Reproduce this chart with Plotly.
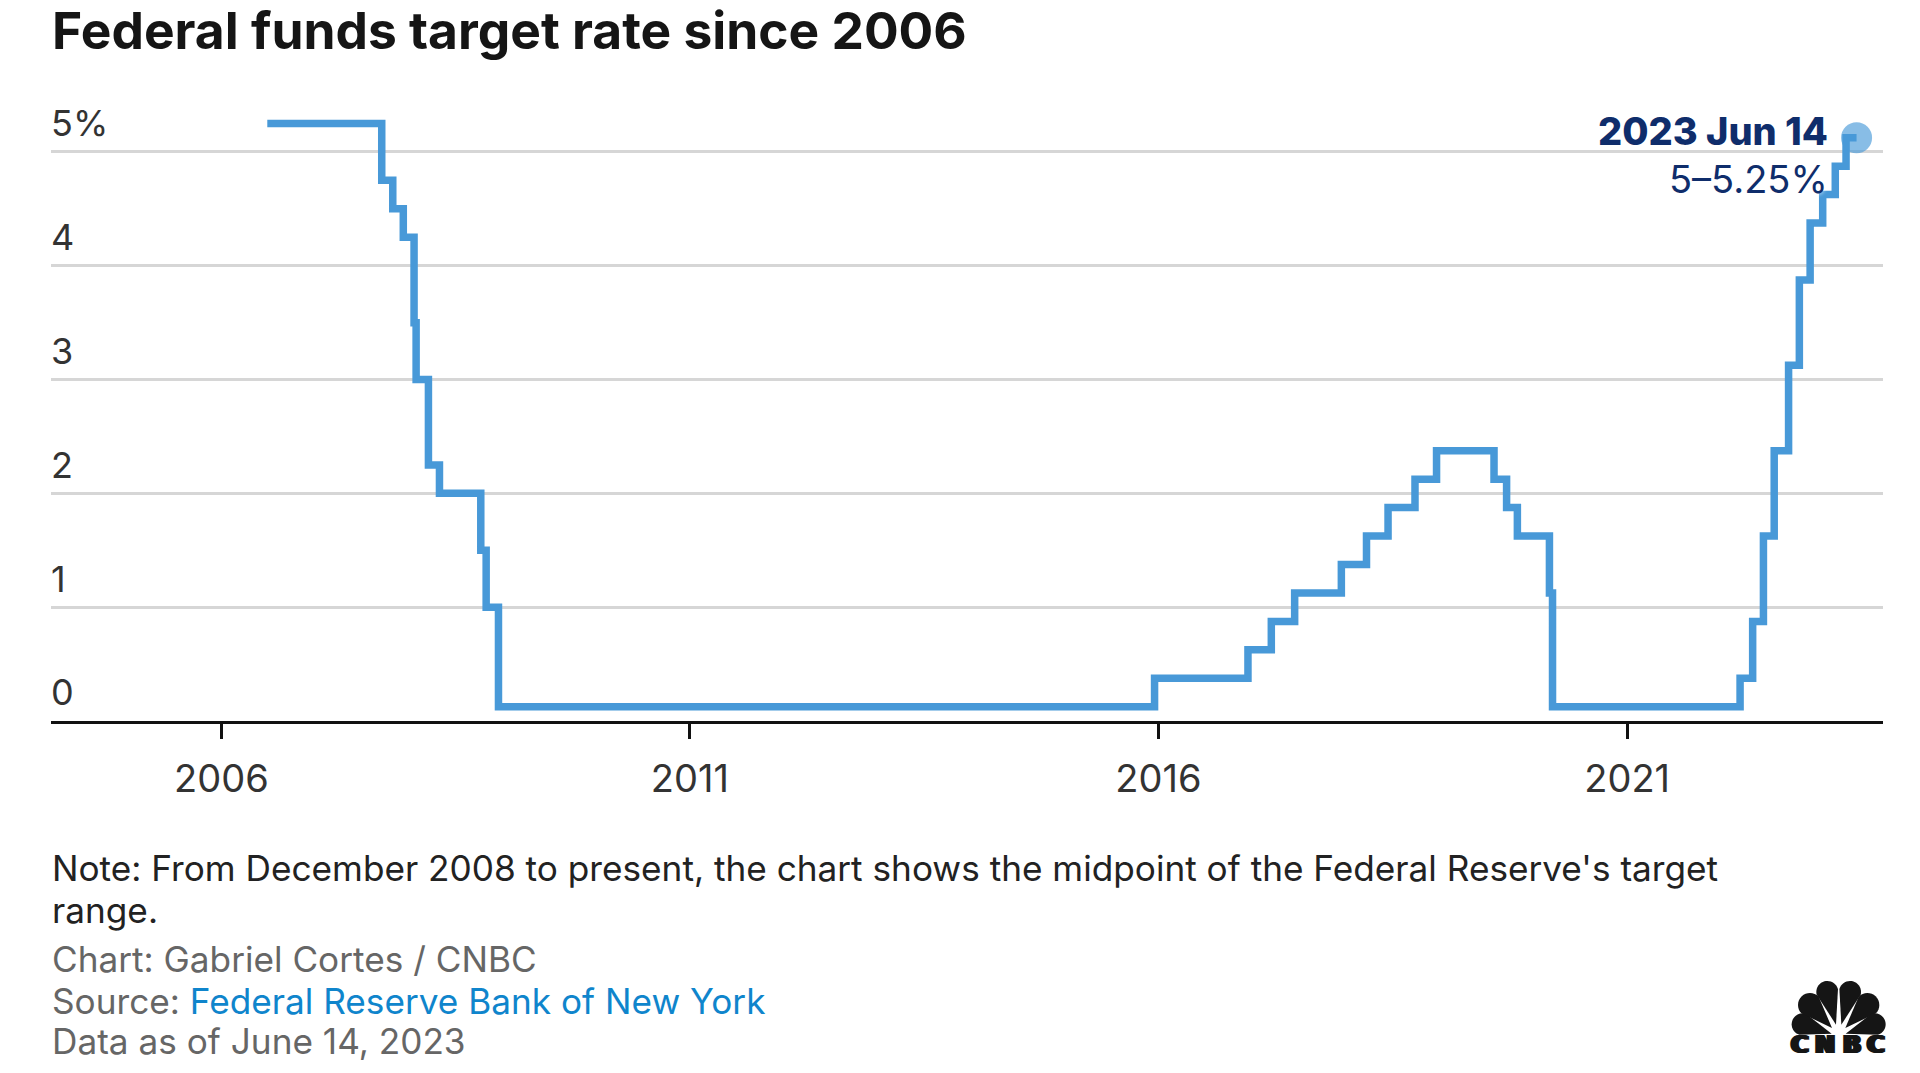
import math
import plotly.graph_objects as go

# step dates of the target rate (midpoint of the range from Dec 2008 on)
rate_dates = ["2006-06-29", "2007-09-18", "2007-10-31", "2007-12-11", "2008-01-22", "2008-01-30",
              "2008-03-18", "2008-04-30", "2008-10-08", "2008-10-29", "2008-12-16", "2015-12-17",
              "2016-12-15", "2017-03-16", "2017-06-15", "2017-12-14", "2018-03-22", "2018-06-14",
              "2018-09-27", "2018-12-20", "2019-08-01", "2019-09-19", "2019-10-31", "2020-03-04",
              "2020-03-16", "2022-03-17", "2022-05-05", "2022-06-16", "2022-07-28", "2022-09-22",
              "2022-11-03", "2022-12-15", "2023-02-02", "2023-03-23", "2023-05-04", "2023-06-14"]
rate_values = [5.25, 4.75, 4.5, 4.25, 3.5, 3.0,
               2.25, 2.0, 1.5, 1.0, 0.125, 0.375,
               0.625, 0.875, 1.125, 1.375, 1.625, 1.875,
               2.125, 2.375, 2.125, 1.875, 1.625, 1.125,
               0.125, 0.375, 0.875, 1.625, 2.375, 3.125,
               3.875, 4.375, 4.625, 4.875, 5.125, 5.125]

x_tick_dates = ["2006-01-01", "2011-01-01", "2016-01-01", "2021-01-01"]
x_tick_labels = ["2006", "2011", "2016", "2021"]
y_tick_values = [0, 1, 2, 3, 4, 5]
y_tick_labels = ["0", "1", "2", "3", "4", "5%"]
logo_letters = ["C", "N", "B", "C"]

BLUE = "#4899d8"
NAVY = "#0f2d6b"
FONT = "Inter"

# the page has an 8px body margin, page pixels below are converted from it
LEFT, RIGHT, TOP, BASE = 51, 1883, 95.4, 720.7


def xp(x):
    return (x - LEFT) / (RIGHT - LEFT)


def yp(y):
    return (BASE - y) / (BASE - TOP)


def note(text, x, y, size=35.2, color="#222222", anchor="left", weight=400, shadow=None):
    font = dict(family=FONT, size=size, color=color, weight=weight)
    if shadow:
        font["shadow"] = shadow
    return dict(text=text, x=xp(x), y=yp(y), xref="paper", yref="paper", xanchor=anchor, yanchor="middle",
                showarrow=False, font=font, align="left", borderpad=0)


# logo feather: straight sided teardrop, coordinates from a 3x crop of the corner
def feather(bx, by, cx, cy, r):
    bx, by, cx, cy, r = [v / 3 for v in (bx, by, cx, cy, r)]
    dx, dy = bx - cx, by - cy
    d = math.hypot(dx, dy)
    dx, dy = dx / d, dy / d
    px_, py_ = -dy, dx
    p1 = (cx + r * px_, cy + r * py_)
    p2 = (cx - r * px_, cy - r * py_)
    t = (cx - r * dx, cy - r * dy)
    k = 0.55 * r

    def pt(p):
        return f"{xp(1700 + p[0]):.5f},{yp(950 + p[1]):.5f}"
    path = "M " + pt((bx, by)) + " L " + pt(p1)
    path += " C " + pt((p1[0] - k * dx, p1[1] - k * dy)) + " " + pt((t[0] + k * px_, t[1] + k * py_)) + " " + pt(t)
    path += " C " + pt((t[0] - k * px_, t[1] - k * py_)) + " " + pt((p2[0] - k * dx, p2[1] - k * dy)) + " " + pt(p2)
    path += " Z"
    return dict(type="path", path=path, xref="paper", yref="paper", fillcolor="#151515", line=dict(width=0))


logo = [feather(395, 249, 308, 221, 33),
        feather(396, 232, 330, 163, 36),
        feather(408, 222, 382, 124, 33),
        feather(424, 222, 450, 124, 33),
        feather(436, 232, 502, 163, 36),
        feather(437, 249, 524, 221, 33)]

fig = go.Figure()
fig.add_trace(go.Scatter(x=rate_dates, y=rate_values, mode="lines", line=dict(color=BLUE, width=7.5, shape="hv"),
                         showlegend=False, hoverinfo="skip"))
fig.add_trace(go.Scatter(x=rate_dates[-1:], y=rate_values[-1:], mode="markers",
                         marker=dict(color=BLUE, size=31, opacity=0.65), showlegend=False, hoverinfo="skip"))

annotations = [
    note("Federal funds target rate since 2006", 51, 30, size=51.5, color="#151515", weight=700),
    note("2023 Jun 14", 1829, 131, size=38, color=NAVY, anchor="right", weight=800, shadow="white 0 0 4px"),
    note("5–5.25%", 1829, 179, size=38, color=NAVY, anchor="right", shadow="white 0 0 4px"),
    note("Note: From December 2008 to present, the chart shows the midpoint of the Federal Reserve's target",
         51, 868),
    note("range.", 51, 909),
    note("Chart: Gabriel Cortes / CNBC", 51, 958, color="#666666"),
    note('Source: <span style="color:#0f85cc">Federal Reserve Bank of New York</span>', 51, 1000, color="#666666"),
    note("Data as of June 14, 2023", 51, 1040, color="#666666"),
]
for letter, cx in zip(logo_letters, [1800, 1825, 1852, 1876]):
    annotations.append(dict(text=letter, x=xp(cx), y=yp(1044), xref="paper", yref="paper", xanchor="center",
                            yanchor="middle", showarrow=False,
                            font=dict(family="DejaVu Sans", size=24, color="#151515", weight=700,
                                      shadow="2px 0 0 #151515, -2px 0 0 #151515, 1px 0 0 #151515, -1px 0 0 #151515")))

fig.update_layout(
    width=1904, height=1057,
    margin=dict(l=LEFT - 8, r=1904 - (RIGHT - 8), t=TOP - 8, b=1057 - (BASE - 8), autoexpand=False),
    paper_bgcolor="white", plot_bgcolor="white",
    xaxis=dict(type="date", range=["2004-03-08", "2023-09-25"], tickmode="array", tickvals=x_tick_dates,
               ticktext=x_tick_labels, showgrid=False, zeroline=False, showline=True, linecolor="#111111",
               linewidth=3, ticks="outside", ticklen=15, tickwidth=3, tickcolor="#111111",
               tickfont=dict(family=FONT, size=38, color="#333333"), ticklabelstandoff=7),
    yaxis=dict(range=[0, 5.5], tickmode="array", tickvals=y_tick_values, ticktext=y_tick_labels,
               showgrid=True, gridcolor="#d6d6d6", gridwidth=2.5, zeroline=False, showline=False, ticks="",
               ticklabelposition="inside top", ticklabelstandoff=-3, ticklabelshift=-3,
               tickfont=dict(family=FONT, size=36, color="#333333")),
    shapes=logo, annotations=annotations,
)

fig.write_html("out.html")
